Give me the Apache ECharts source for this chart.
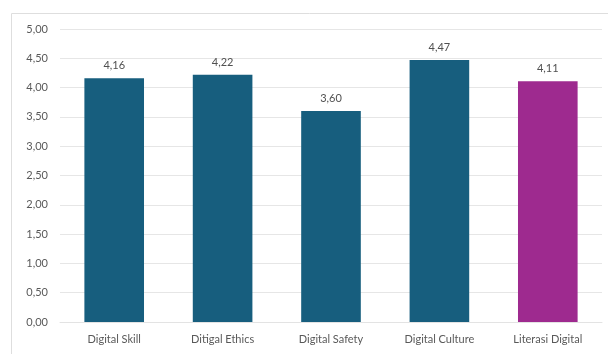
<!DOCTYPE html>
<html>
<head>
<meta charset="utf-8">
<script src="https://cdn.jsdelivr.net/npm/echarts@6/dist/echarts.min.js"></script>
<style>
  html, body { margin: 0; padding: 0; background: #fff; }
  #chart { width: 608px; height: 354px; }
</style>
</head>
<body>
<div id="chart"></div>
<script>
// Average score per dimension of digital literacy
const categories = ['Digital Skill', 'Ditigal Ethics', 'Digital Safety', 'Digital Culture', 'Literasi Digital'];
const scores = [4.16, 4.22, 3.60, 4.47, 4.11];
const barColors = ['#175E7E', '#175E7E', '#175E7E', '#175E7E', '#9E2A8F'];

const fmt = v => v.toFixed(2).replace('.', ',');

const chart = echarts.init(document.getElementById('chart'));
chart.setOption({
  animation: false,
  textStyle: { fontFamily: 'Lato, "Open Sans", sans-serif' },
  graphic: [{
    // chart-area frame (top and left edges)
    type: 'polyline',
    shape: { points: [[11.5, 354], [11.5, 13.5], [608, 13.5]] },
    style: { fill: 'none', stroke: '#dedede', lineWidth: 1 },
    silent: true
  }],
  grid: { left: 60, right: 6, top: 29, bottom: 32, containLabel: false },
  xAxis: {
    type: 'category',
    data: categories,
    axisLine: { show: true, lineStyle: { color: '#e3e3e3' } },
    axisTick: { show: false },
    axisLabel: { color: '#595959', fontSize: 11, margin: 12 }
  },
  yAxis: {
    type: 'value',
    min: 0, max: 5, interval: 0.5,
    axisLine: { show: false },
    axisTick: { show: false },
    splitLine: { lineStyle: { color: '#e6e6e6', width: 1 } },
    axisLabel: { color: '#595959', fontSize: 11, margin: 12, formatter: v => fmt(v) }
  },
  series: [{
    type: 'bar',
    barWidth: '55%',
    data: scores.map((v, i) => ({ value: v, itemStyle: { color: barColors[i] } })),
    label: {
      show: true, position: 'top', distance: 7,
      color: '#505050', fontSize: 11,
      formatter: p => fmt(p.value)
    }
  }]
});
</script>
</body>
</html>
